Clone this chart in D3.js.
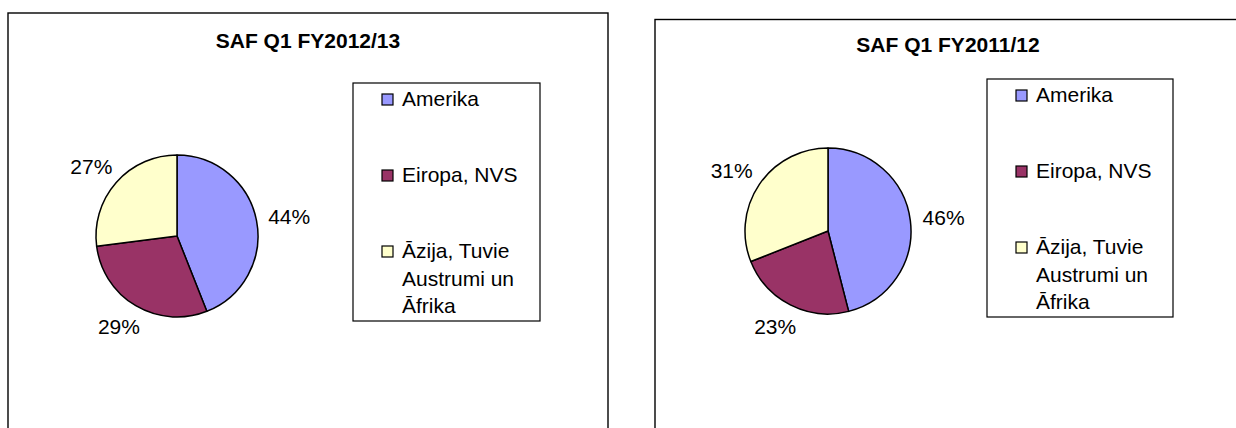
<!DOCTYPE html>
<html>
<head>
<meta charset="utf-8">
<script src="https://cdn.jsdelivr.net/npm/d3@7"></script>
<style>
  body { margin: 0; background: #fff; }
  svg { display: block; font-family: "Liberation Sans", Arial, sans-serif; }
</style>
</head>
<body>
<svg id="chart" width="1236" height="428"></svg>
<script>
// data
var categories = ["Amerika", "Eiropa, NVS", "Āzija, Tuvie Austrumi un Āfrika"];
var legendLines = [["Amerika"], ["Eiropa, NVS"], ["Āzija, Tuvie", "Austrumi un", "Āfrika"]];
var sliceColors = ["#9999FF", "#993366", "#FFFFCC"];
var titles = ["SAF Q1 FY2012/13", "SAF Q1 FY2011/12"];
var values2012 = [44, 29, 27];
var values2011 = [46, 23, 31];

var svg = d3.select("#chart");

var color = d3.scaleOrdinal()
  .domain(categories)
  .range(sliceColors);

function drawPanel(title, values, lay) {
  var g = svg.append("g");

  // chart frame, runs off the bottom of the picture
  g.append("rect")
    .attr("x", lay.fx)
    .attr("y", lay.fy)
    .attr("width", lay.fw)
    .attr("height", 500)
    .attr("fill", "#fff")
    .attr("stroke", "#000")
    .attr("stroke-width", 1.4);

  g.append("text")
    .attr("x", lay.fx + lay.fw / 2)
    .attr("y", lay.fy + lay.titleDy)
    .attr("text-anchor", "middle")
    .attr("font-size", 21)
    .attr("font-weight", "bold")
    .text(title);

  var rows = categories.map((c, i) => ({ cat: c, value: values[i] }));
  var total = d3.sum(values);

  var pie = d3.pie()
    .sort(null)
    .value((d) => d.value);

  var arc = d3.arc()
    .innerRadius(0)
    .outerRadius(lay.r);

  var pg = g.append("g")
    .attr("transform", "translate(" + lay.cx + "," + lay.cy + ")");

  var arcs = pie(rows);

  pg.selectAll("path")
    .data(arcs)
    .enter()
    .append("path")
    .attr("d", arc)
    .attr("fill", (d) => color(d.data.cat))
    .attr("stroke", "#000")
    .attr("stroke-width", 1.5)
    .attr("stroke-linejoin", "round");

  var fmt = d3.format(".0%");
  var labelR = lay.r * 1.15;

  pg.selectAll("text.lbl")
    .data(arcs)
    .enter()
    .append("text")
    .attr("class", "lbl")
    .attr("font-size", 21)
    .attr("text-anchor", "middle")
    .text((d) => fmt(d.data.value / total))
    .each(function(d) {
      var a = (d.startAngle + d.endAngle) / 2;
      var dx = Math.sin(a), dy = -Math.cos(a);
      var w = this.getComputedTextLength();
      var x = dx * labelR + dx * w / 2;
      var y = dy * labelR + dy * 12;
      d3.select(this)
        .attr("x", x)
        .attr("y", y + 7.5);
    });

  // legend
  var lg = g.append("g")
    .attr("transform", "translate(" + lay.lx + "," + lay.ly + ")");

  lg.append("rect")
    .attr("width", lay.lw)
    .attr("height", lay.lh)
    .attr("fill", "#fff")
    .attr("stroke", "#000")
    .attr("stroke-width", 1.2);

  var item = lg.selectAll("g.item")
    .data(categories)
    .enter()
    .append("g")
    .attr("class", "item")
    .attr("transform", (d, i) => "translate(0," + (i * 76) + ")");

  item.append("rect")
    .attr("x", 29)
    .attr("y", 11)
    .attr("width", 11)
    .attr("height", 11)
    .attr("fill", (d) => color(d))
    .attr("stroke", "#000")
    .attr("stroke-width", 1.2);

  item.append("text")
    .attr("font-size", 21)
    .selectAll("tspan")
    .data((d, i) => legendLines[i])
    .enter()
    .append("tspan")
    .attr("x", 49)
    .attr("y", (d, j) => 23 + j * 27.5)
    .text((d) => d);
}

drawPanel(titles[0], values2012,
  { fx: 8, fy: 13, fw: 600, titleDy: 35, cx: 177, cy: 236, r: 81,
    lx: 353, ly: 83, lw: 187, lh: 238 });

drawPanel(titles[1], values2011,
  { fx: 655, fy: 19.5, fw: 586, titleDy: 32.5, cx: 828, cy: 231, r: 83,
    lx: 987, ly: 79, lw: 186, lh: 238 });
</script>
</body>
</html>
